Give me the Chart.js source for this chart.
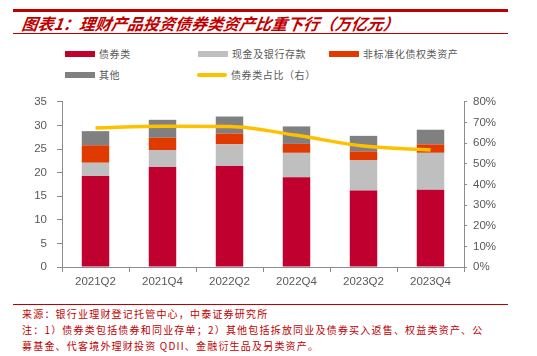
<!DOCTYPE html>
<html><head><meta charset="utf-8">
<script src="https://cdn.jsdelivr.net/npm/chart.js@4/dist/chart.umd.min.js"></script>
<style>
html,body{margin:0;padding:0;background:#fff;}
body{width:537px;height:356px;position:relative;overflow:hidden;font-family:"Noto Sans CJK SC","Liberation Sans",sans-serif;}
.rule{position:absolute;left:13px;width:495px;background:#C00000;}
#title{position:absolute;left:22px;top:12px;font-size:16px;font-weight:bold;font-style:italic;color:#C00000;white-space:nowrap;line-height:22px;transform:skewX(-8deg);}
.lg{position:absolute;font-size:10px;color:#595959;white-space:nowrap;line-height:14px;letter-spacing:0.6px;}
.lg i{display:inline-block;width:30px;height:6px;vertical-align:middle;margin-right:4px;position:relative;top:-1px;}
.lg i.ln{height:4px;border-radius:2px;}
#cw{position:absolute;left:0;top:85px;width:537px;height:215px;}
.src{position:absolute;left:22px;font-size:10px;color:#C00000;white-space:nowrap;letter-spacing:1.2px;line-height:14px;}
</style></head>
<body>
<div class="rule" style="top:9px;height:3px;"></div>
<div id="title">图表1：理财产品投资债券类资产比重下行（万亿元）</div>
<div class="rule" style="top:33px;height:1px;"></div>
<div id="legend"></div>
<div id="cw"><canvas id="c" width="537" height="215"></canvas></div>
<div class="rule" style="top:304px;height:1px;"></div>
<div class="src" style="top:307px;">来源：银行业理财登记托管中心，中泰证券研究所</div>
<div class="src" style="top:323px;">注：1）债券类包括债券和同业存单；2）其他包括拆放同业及债券买入返售、权益类资产、公</div>
<div class="src" style="top:339px;">募基金、代客境外理财投资 QDII、金融衍生品及另类资产。</div>
<script>
const categories = ["2021Q2","2021Q4","2022Q2","2022Q4","2023Q2","2023Q4"];
const bonds   = [19.3, 21.2, 21.4, 19.0, 16.2, 16.4];
const cash    = [2.8, 3.6, 4.6, 5.2, 6.4, 7.8];
const nonStd  = [3.7, 2.6, 2.3, 1.9, 1.9, 1.8];
const others  = [3.0, 3.8, 3.6, 3.7, 3.3, 3.1];
const bondShare = [67.4, 68.2, 68.1, 63.8, 58.6, 56.7];
const leftTicks = [0,5,10,15,20,25,30,35];
const rightTicks = [0,10,20,30,40,50,60,70,80];

const names = ["债券类","现金及银行存款","非标准化债权类资产","其他","债券类占比（右）"];
const colors = ["#C0002F","#BFBFBF","#E03A00","#808080","#FFC000"];

// HTML legend
const legendPos = [[65,47],[198,47],[329,47],[65,68],[197,68]];
const lgEl = document.getElementById('legend');
names.forEach((n,i)=>{
  const d=document.createElement('div');
  d.className='lg';
  d.style.left=legendPos[i][0]+'px'; d.style.top=legendPos[i][1]+'px';
  d.innerHTML='<i class="'+(i===4?'ln':'')+'" style="background:'+colors[i]+'"></i>'+n;
  lgEl.appendChild(d);
});

const tickFont = {family:"'Liberation Sans', Arial, sans-serif", size:11.5};
const axisColor = '#8C8C8C';
new Chart(document.getElementById('c'), {
  data: {
    labels: categories,
    datasets: [
      {type:'line', label:names[4], data:bondShare, yAxisID:'y1', borderColor:colors[4], backgroundColor:colors[4], borderWidth:3.5, pointRadius:0, cubicInterpolationMode:'monotone', order:0},
      {type:'bar', label:names[0], data:bonds, backgroundColor:colors[0], yAxisID:'y', stack:'s', order:1},
      {type:'bar', label:names[1], data:cash, backgroundColor:colors[1], yAxisID:'y', stack:'s', order:1},
      {type:'bar', label:names[2], data:nonStd, backgroundColor:colors[2], yAxisID:'y', stack:'s', order:1},
      {type:'bar', label:names[3], data:others, backgroundColor:colors[3], yAxisID:'y', stack:'s', order:1}
    ]
  },
  options: {
    responsive:false, animation:false,
    layout:{padding:{top:14.5,bottom:0,left:0,right:0}},
    plugins:{legend:{display:false}, tooltip:{enabled:false}},
    datasets:{bar:{categoryPercentage:1, barPercentage:0.41}},
    scales:{
      x:{stacked:true, offset:true,
         grid:{display:true, drawOnChartArea:false, offset:true, tickLength:5, color:axisColor},
         border:{display:true, color:axisColor},
         ticks:{color:'#595959', font:tickFont, padding:3, maxRotation:0},
         afterFit:s=>{s.height=33;}
      },
      y:{stacked:true, position:'left', min:0, max:35,
         afterBuildTicks:s=>{s.ticks=leftTicks.map(v=>({value:v}));},
         grid:{display:true, drawOnChartArea:false, tickLength:5, color:axisColor},
         border:{display:true, color:axisColor},
         ticks:{color:'#595959', font:tickFont, padding:10},
         afterFit:s=>{s.width=62;}
      },
      y1:{position:'right', min:0, max:80,
         afterBuildTicks:s=>{s.ticks=rightTicks.map(v=>({value:v}));},
         grid:{display:true, drawOnChartArea:false, tickLength:3, color:axisColor},
         border:{display:true, color:axisColor},
         ticks:{color:'#595959', font:tickFont, padding:6, callback:v=>v+'%'},
         afterFit:s=>{s.width=73;}
      }
    }
  }
});
</script>
</body></html>
